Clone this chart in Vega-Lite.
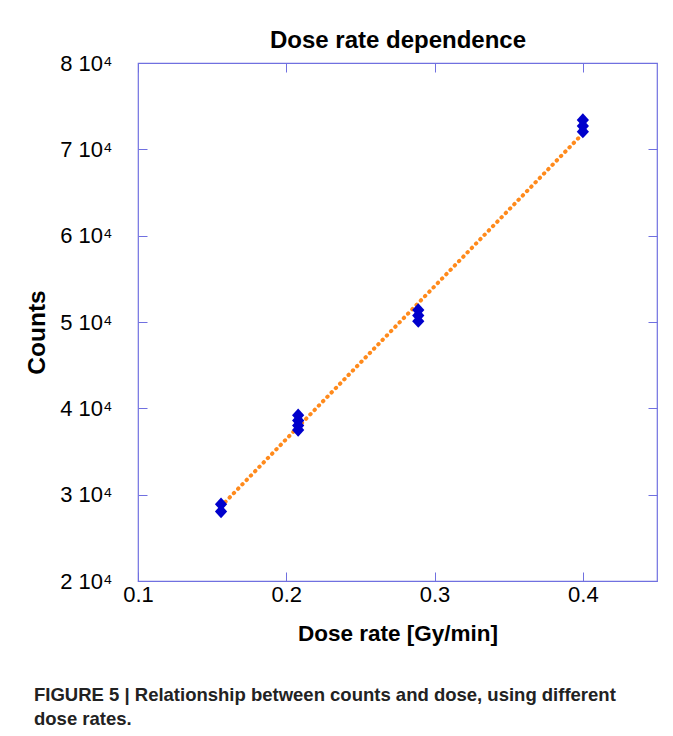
{
  "$schema": "https://vega.github.io/schema/vega-lite/v6.json",
  "autosize": {"type": "none"},
  "padding": {"left": 138, "top": 63, "right": 16, "bottom": 155},
  "width": 519,
  "height": 518,
  "background": "white",
  "title": {
    "text": ["FIGURE 5 | Relationship between counts and dose, using different", "dose rates."],
    "orient": "bottom",
    "anchor": "start",
    "frame": "bounds",
    "font": "Liberation Sans",
    "fontSize": 18.5,
    "fontWeight": "bold",
    "color": "#222222",
    "lineHeight": 24,
    "offset": 41,
    "dx": 10
  },
  "datasets": {
    "pts": [
      {"rate": 0.156, "counts": 28900},
      {"rate": 0.156, "counts": 28050},
      {"rate": 0.208, "counts": 39200},
      {"rate": 0.208, "counts": 38600},
      {"rate": 0.208, "counts": 38000},
      {"rate": 0.208, "counts": 37500},
      {"rate": 0.289, "counts": 51400},
      {"rate": 0.289, "counts": 50750},
      {"rate": 0.289, "counts": 50100},
      {"rate": 0.4, "counts": 73400},
      {"rate": 0.4, "counts": 72700},
      {"rate": 0.4, "counts": 72050}
    ],
    "fit": [
      {"rate": 0.156, "counts": 28650},
      {"rate": 0.4, "counts": 71830}
    ]
  },
  "layer": [
    {
      "data": {"name": "fit"},
      "mark": {"type": "line", "color": "#ff8a1c", "strokeWidth": 4, "strokeDash": [0.5, 5.6], "strokeCap": "round"},
      "encoding": {
        "x": {
          "field": "rate", "type": "quantitative",
          "scale": {"domain": [0.1, 0.45], "nice": false, "zero": false},
          "axis": {
            "orient": "top", "values": [0.1, 0.2, 0.3, 0.4], "labels": false,
            "domain": false, "grid": false, "tickSize": -9, "tickColor": "#7070e0",
            "title": "Dose rate dependence", "titleFont": "Liberation Sans", "titleFontSize": 24,
            "titleFontWeight": "bold", "titleColor": "#000000", "titleBaseline": "alphabetic", "titleY": -16
          }
        },
        "y": {
          "field": "counts", "type": "quantitative",
          "scale": {"domain": [20000, 80000], "nice": false, "zero": false},
          "axis": {
            "orient": "right", "values": [20000, 30000, 40000, 50000, 60000, 70000, 80000],
            "labels": false, "domain": false, "grid": false, "tickSize": -9, "tickColor": "#7070e0", "title": null
          }
        }
      }
    },
    {
      "data": {"name": "pts"},
      "mark": {"type": "point", "shape": "M0,-1.1L1,0L0,1.1L-1,0Z", "filled": true, "color": "#0000cc", "size": 150, "opacity": 1},
      "encoding": {
        "x": {
          "field": "rate", "type": "quantitative",
          "axis": {
            "orient": "bottom", "values": [0.1, 0.2, 0.3, 0.4], "format": ".1f", "labelFlush": false,
            "domain": false, "grid": false, "tickSize": -9, "tickColor": "#7070e0",
            "labelFont": "Liberation Sans", "labelFontSize": 22, "labelColor": "#000000", "labelPadding": 12,
            "title": "Dose rate [Gy/min]", "titleFont": "Liberation Sans", "titleFontSize": 22.5,
            "titleFontWeight": "bold", "titleColor": "#000000", "titleBaseline": "alphabetic", "titleY": 59
          }
        },
        "y": {
          "field": "counts", "type": "quantitative",
          "axis": {
            "orient": "left", "values": [20000, 30000, 40000, 50000, 60000, 70000, 80000], "labelFlush": false,
            "labelExpr": "format(datum.value / 10000, 'd') + ' 10⁴'",
            "domain": false, "grid": false, "tickSize": -9, "tickColor": "#7070e0",
            "labelFont": "Liberation Sans", "labelFontSize": 22, "labelColor": "#000000", "labelPadding": 35,
            "title": "Counts", "titleFont": "Liberation Sans", "titleFontSize": 24.5,
            "titleFontWeight": "bold", "titleColor": "#000000", "titleBaseline": "alphabetic",
            "titleX": -94, "titleY": 269, "titleAngle": -90
          }
        }
      }
    }
  ],
  "resolve": {"axis": {"x": "independent", "y": "independent"}},
  "config": {
    "view": {"stroke": "#7070e0", "strokeWidth": 1.2}
  }
}
